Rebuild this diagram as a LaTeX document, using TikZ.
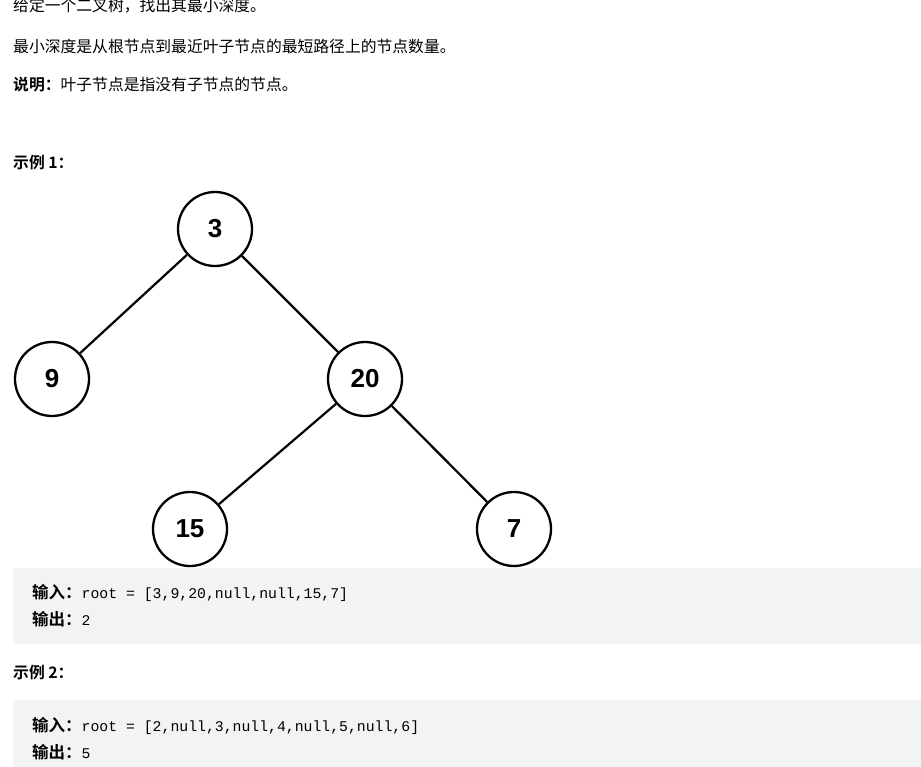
\documentclass[tikz,border=0pt]{standalone}
\usepackage{fontspec}
\setmainfont{Liberation Sans}
\newfontfamily\cjk{Noto Sans CJK SC}
\newfontfamily\cjkb{Noto Sans CJK SC Bold}
\newfontfamily\codef{Liberation Mono}
\newcommand\labf{\fontsize{16.5}{16}\cjkb}
\definecolor{codebg}{HTML}{F2F3F5}
\begin{document}
\begin{tikzpicture}[x=1pt,y=-1pt,
  tn/.style={circle,draw,line width=2.3pt,minimum size=74pt,inner sep=0pt,font=\fontsize{26}{26}\selectfont\bfseries},
  ed/.style={line width=2.2pt},
  txt/.style={anchor=west,inner sep=0pt,font=\fontsize{15.8}{16}\cjk},
  code/.style={fill=codebg,rounded corners=3pt,draw=none},
  ct/.style={anchor=west,inner sep=0pt,font=\fontsize{14.8}{15}\codef}]
\useasboundingbox (0,0) rectangle (921,767);
\begin{scope}
\clip (0,0) rectangle (921,767);
\node[txt] (t1) at (13,6) {给定一个二叉树，找出其最小深度。};
\node[txt] (t2) at (13,46) {最小深度是从根节点到最近叶子节点的最短路径上的节点数量。};
\node[txt] (t3) at (13,85) {{\cjkb 说明：}叶子节点是指没有子节点的节点。};
\node[txt] (e1) at (13,163) {\cjkb 示例 1：};
\node[tn] (a) at (215,229) {3};
\node[tn] (b) at (52,379) {9};
\node[tn] (c) at (365,379) {20};
\node[tn] (d) at (190,529) {15};
\node[tn] (e) at (514,529) {7};
\draw[ed] (a) -- (b);
\draw[ed] (a) -- (c);
\draw[ed] (c) -- (d);
\draw[ed] (c) -- (e);
\path[code] (13,568) rectangle (935,644);
\node[ct] (i1) at (32,593) {{\labf 输入：}root = [3,9,20,null,null,15,7]};
\node[ct] (o1) at (32,619) {{\labf 输出：}2};
\node[txt] (e2) at (13,673) {\cjkb 示例 2：};
\path[code] (13,700) rectangle (935,790);
\node[ct] (i2) at (32,726) {{\labf 输入：}root = [2,null,3,null,4,null,5,null,6]};
\node[ct] (o2) at (32,752) {{\labf 输出：}5};
\end{scope}
\end{tikzpicture}
\end{document}
